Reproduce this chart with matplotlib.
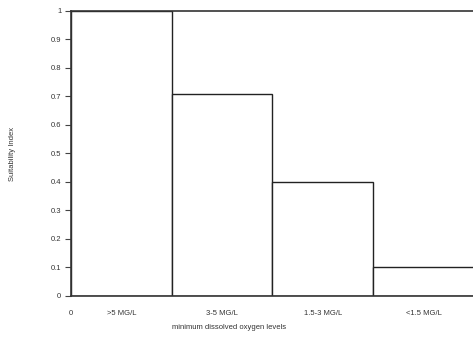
import numpy as np
import matplotlib.pyplot as plt

plt.rcParams['font.family'] = ['Liberation Sans', 'DejaVu Sans']

# suitability index by dissolved oxygen class
categories = ['>5 MG/L', '3-5 MG/L', '1.5-3 MG/L', '<1.5 MG/L']
values = [1.0, 0.71, 0.4, 0.1]
yticks = np.round(np.arange(0, 1.01, 0.1), 1)

fig = plt.figure(figsize=(4.73, 3.41), dpi=100)
ax = fig.add_axes([0.150, 0.132, 0.852, 0.836])

x = np.arange(len(categories))
ax.bar(x, values, width=1.0, align='edge', facecolor='white',
       edgecolor='#222222', linewidth=1.0)

ax.set_xlim(0, len(categories))
ax.set_ylim(0, 1)

ax.spines['right'].set_visible(False)
for s in ['left', 'bottom', 'top']:
    ax.spines[s].set_color('#333333')
    ax.spines[s].set_linewidth(1.2)

ax.set_yticks(yticks)
ax.set_yticklabels(['0'] + [str(v) for v in yticks[1:-1]] + ['1'])
ax.tick_params(axis='y', length=4, width=0.8, color='#444444',
               labelsize=5.5, labelcolor='#333333', pad=3)

ax.set_xticks([0] + list(x + 0.5))
ax.set_xticklabels(['0'] + categories)
ax.tick_params(axis='x', length=0, labelsize=5.5, labelcolor='#333333', pad=10)

fig.text(0.485, 0.04, 'minimum dissolved oxygen levels', fontsize=5.5,
         color='#333333', ha='center', va='center')
fig.text(0.027, 0.55, 'Suitability Index', fontsize=5.5, color='#333333',
         rotation=90, ha='center', va='center')

fig.savefig('out.png', dpi=100)
